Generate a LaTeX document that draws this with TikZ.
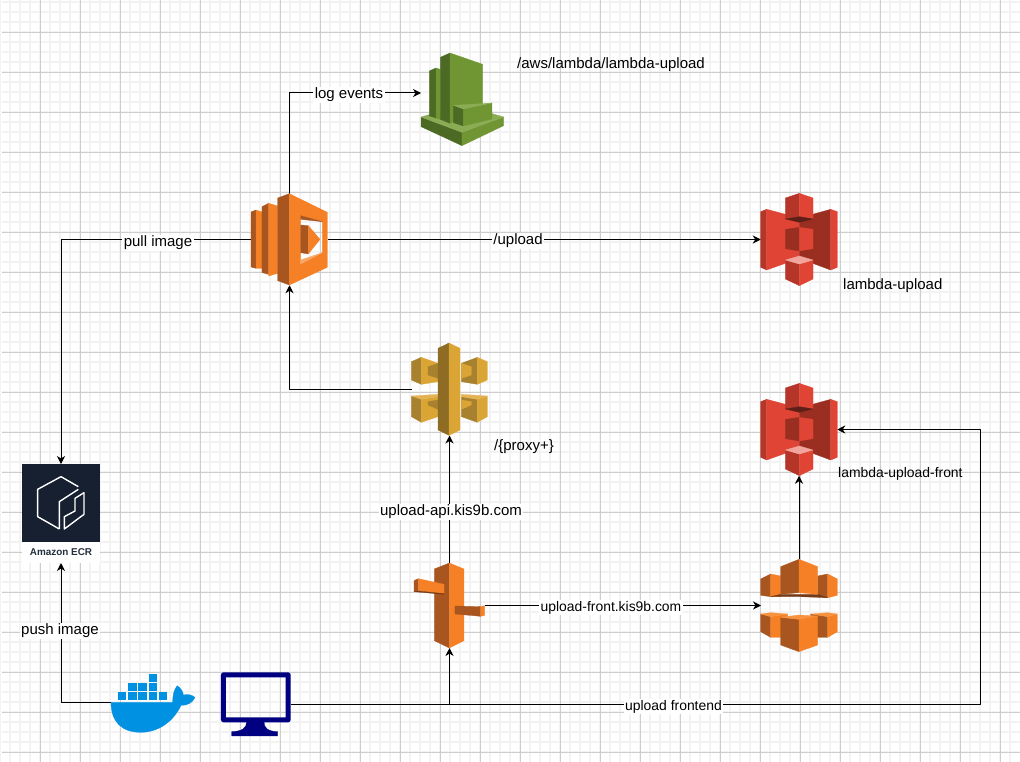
\documentclass[tikz,border=0pt]{standalone}
\usepackage{fontspec}
\setmainfont{Liberation Sans}
\usetikzlibrary{arrows.meta,calc}
\definecolor{gridminor}{HTML}{F3F3F3}
\definecolor{gridmajor}{HTML}{CDCDCD}
\definecolor{cwl}{HTML}{6F9632}
\definecolor{cwd}{HTML}{4C6A24}
\definecolor{cwp}{HTML}{8BAC55}
\definecolor{orl}{HTML}{F58025}
\definecolor{ord}{HTML}{A85520}
\definecolor{orp}{HTML}{F9A766}
\definecolor{orq}{HTML}{F7923F}
\definecolor{s3l}{HTML}{E04434}
\definecolor{s3d}{HTML}{9A2F21}
\definecolor{s3m}{HTML}{B53628}
\definecolor{s3p}{HTML}{F2A59C}
\definecolor{s3v}{HTML}{5E1F18}
\definecolor{agl}{HTML}{DBA535}
\definecolor{agd}{HTML}{8F6C24}
\definecolor{agm}{HTML}{A8812E}
\definecolor{agp}{HTML}{E3B355}
\definecolor{ecrbg}{HTML}{162030}
\definecolor{ecrtx}{HTML}{232F3E}
\definecolor{dock}{HTML}{0091E2}
\definecolor{mon}{HTML}{000080}
\tikzset{
  iconbox/.style={inner sep=0pt,outer sep=0pt,draw=none},
  conn/.style={draw=black,line width=1pt,-{Stealth[length=8pt,width=8pt,inset=2.5pt]}},
  linelabel/.style={fill=white,inner sep=1.5pt,font=\fontsize{15}{17}\selectfont},
  linelabelsmall/.style={fill=white,inner sep=1.5pt,font=\fontsize{13.9}{16}\selectfont},
  freelabel/.style={anchor=west,inner sep=0pt,font=\fontsize{15}{17}\selectfont},
  zoomed/.style={x=0.3333pt,y=-0.3333pt,line width=0.3pt},
}
\begin{document}
\begin{tikzpicture}[x=1pt,y=-1pt,line join=round]
\useasboundingbox (0,0) rectangle (1020,762);
\fill[white] (0,0) rectangle (1020,762);
% grid
\begin{scope}[gridminor,line width=1.3pt]
\foreach \i in {0,...,101} \draw (10*\i,0) -- (10*\i,762);
\foreach \i in {0,...,75} \draw (2,10*\i+2) -- (1020,10*\i+2);
\end{scope}
\begin{scope}[gridmajor,line width=0.8pt]
\foreach \i in {1,...,25} \draw (40*\i,0) -- (40*\i,762);
\foreach \i in {0,...,18} \draw (2,40*\i+32) -- (1020,40*\i+32);
\end{scope}

% named boxes
\node[iconbox,minimum width=83pt,minimum height=93pt] (cw) at (462.5,99.4) {};
\node[iconbox,minimum width=76.5pt,minimum height=91.5pt] (lambda) at (289.5,239.5) {};
\node[iconbox,minimum width=76.5pt,minimum height=92.5pt] (s3a) at (799,239.5) {};
\node[iconbox,minimum width=76.5pt,minimum height=92.5pt] (s3b) at (799,429.5) {};
\node[iconbox,minimum width=76pt,minimum height=92pt] (api) at (449.5,389.5) {};
\node[iconbox,minimum width=71pt,minimum height=85pt] (r53) at (449.5,605.5) {};
\node[iconbox,minimum width=76pt,minimum height=93pt] (cf) at (799,605.5) {};
\node[iconbox,minimum width=78pt,minimum height=78pt,fill=ecrbg] (ecr) at (61,503) {};
\node[iconbox,fill=white,minimum width=78pt,minimum height=21pt,font=\bfseries\fontsize{9.9}{11}\selectfont,text=ecrtx] (ecrl) at (61,552.5) {Amazon ECR};
\node[iconbox,minimum width=84pt,minimum height=59pt] (docker) at (153,702.5) {};
\node[iconbox,minimum width=70pt,minimum height=64pt] (monitor) at (256,704) {};
\coordinate (cwin) at (421,93);

% connectors
\draw[conn] (lambda.north) |- (cwin);
\draw[conn] (lambda.west) -| (ecr.north);
\draw[conn] (lambda.east) -- (s3a.west);
\draw[conn] (api.west) -| (lambda.south);
\draw[conn] (r53.north) -- (api.south);
\draw[conn] (r53.east) -- (cf.west);
\draw[conn] (monitor.east) -| (r53.south);
\draw[conn] (monitor.east) -- ++(689,0) |- (s3b.east);
\draw[conn] (cf.north) -- (s3b.south);
\draw[conn] (docker.west) -| (ecrl.south);

% connector labels
\node[linelabel] (l1) at (349,95) {log events};
\node[linelabel] (l2) at (158,243) {pull image};
\node[linelabel] (l3) at (518,241) {/upload};
\node[linelabel] (l4) at (451,512) {upload-api.kis9b.com};
\node[linelabelsmall] (l5) at (611,607.5) {upload-front.kis9b.com};
\node[linelabelsmall] (l6) at (673.5,706.5) {upload frontend};
\node[linelabel] (l7) at (60,631) {push image};
% free labels
\node[freelabel] (t1) at (517,65) {/aws/lambda/lambda-upload};
\node[freelabel] (t2) at (843,286) {lambda-upload};
\node[freelabel] (t3) at (494,447) {/\{proxy+\}};
\node[freelabel,font=\fontsize{13.9}{16}\selectfont] (t4) at (838,474) {lambda-upload-front};

% CloudWatch
\begin{scope}[shift={(400,30)},zoomed]
\filldraw[cwd] (63,261) -- (186,307) -- (186,347) -- (63,290) -- cycle;
\filldraw[cwl] (186,307) -- (311,261) -- (311,287) -- (186,347) -- cycle;
\filldraw[cwp] (63,261) -- (187,225) -- (311,261) -- (186,307) -- cycle;
\filldraw[cwd] (88,123) -- (108,114) -- (108,264) -- (88,258) -- cycle;
\filldraw[cwl] (108,114) -- (121,118) -- (121,268) -- (108,264) -- cycle;
\filldraw[cwd] (121,82) -- (150,69) -- (150,280) -- (121,268) -- cycle;
\filldraw[cwl] (150,69) -- (248,103) -- (248,225) -- (150,280) -- cycle;
\filldraw[cwd] (160,226) -- (190,237) -- (190,288) -- (160,278) -- cycle;
\filldraw[cwl] (190,237) -- (276,219) -- (276,267) -- (190,288) -- cycle;
\filldraw[cwp] (160,226) -- (276,219) -- (190,237) -- cycle;
\end{scope}

% Lambda
\begin{scope}[shift={(230,180)},zoomed]
\filldraw[ord] (63,96) -- (78,90) -- (78,265) -- (63,261) -- cycle;
\filldraw[orl] (78,90) -- (96,96) -- (96,265) -- (78,265) -- cycle;
\filldraw[ord] (96,80) -- (116,70) -- (116,283) -- (96,278) -- cycle;
\filldraw[orl] (116,70) -- (143,78) -- (143,280) -- (116,288) -- cycle;
\filldraw[ord] (143,54) -- (178,41) -- (178,315) -- (143,302) -- cycle;
\filldraw[orl,even odd rule] (178,41) -- (292,97) -- (292,262) -- (178,315) -- cycle
  (212,107) -- (277,125) -- (277,218) -- (212,252) -- cycle;
\filldraw[ord] (212,107) -- (277,125) -- (212,118) -- cycle;
\filldraw[orp] (212,240) -- (277,218) -- (212,252) -- cycle;
\filldraw[ord] (212,135) -- (235,137) -- (235,222) -- (212,218) -- cycle;
\filldraw[orl] (235,137) -- (270,178) -- (235,222) -- cycle;
\end{scope}

% S3 icons
\foreach \yy/\nm in {190/a,380/b}{
\begin{scope}[shift={(740,\yy)},zoomed]
\filldraw[s3m] (62,65) -- (80,58) -- (80,240) -- (62,232) -- cycle;
\filldraw[s3l] (80,58) -- (178,84) -- (178,205) -- (80,240) -- cycle;
\filldraw[s3d] (272,58) -- (178,84) -- (178,205) -- (272,240) -- cycle;
\filldraw[s3l] (272,58) -- (292,65) -- (292,232) -- (272,240) -- cycle;
\filldraw[s3m] (136,24) -- (178,10) -- (178,80) -- (136,87) -- cycle;
\filldraw[s3l] (178,10) -- (219,24) -- (219,87) -- (178,80) -- cycle;
\filldraw[s3v] (136,87) -- (178,80) -- (219,87) -- (178,97) -- cycle;
\filldraw[s3d] (136,118) -- (178,112) -- (178,183) -- (136,176) -- cycle;
\filldraw[s3l] (178,112) -- (219,118) -- (219,176) -- (178,183) -- cycle;
\filldraw[s3m] (136,210) -- (178,222) -- (178,287) -- (136,267) -- cycle;
\filldraw[s3l] (178,222) -- (219,210) -- (219,267) -- (178,287) -- cycle;
\filldraw[s3p] (136,210) -- (178,198) -- (219,210) -- (178,222) -- cycle;
\end{scope}}

% API Gateway
\begin{scope}[shift={(408,350)},zoomed]
\filldraw[agm] (10,35) -- (40,22) -- (40,103) -- (10,90) -- cycle;
\filldraw[agl] (40,22) -- (90,40) -- (90,95) -- (40,103) -- cycle;
\filldraw[agm] (60,50) -- (90,40) -- (90,85) -- (60,75) -- cycle;
\filldraw[agm] (160,40) -- (208,22) -- (208,103) -- (160,95) -- cycle;
\filldraw[agl] (208,22) -- (238,35) -- (238,90) -- (208,103) -- cycle;
\filldraw[agl] (160,40) -- (190,50) -- (190,75) -- (160,85) -- cycle;
\filldraw[agm] (10,138) -- (40,148) -- (40,217) -- (10,200) -- cycle;
\filldraw[agl] (40,148) -- (90,140) -- (90,200) -- (40,217) -- cycle;
\filldraw[agp] (10,138) -- (90,133) -- (90,140) -- (40,148) -- cycle;
\filldraw[agm] (60,155) -- (90,150) -- (90,178) -- (60,165) -- cycle;
\filldraw[agm] (160,140) -- (208,148) -- (208,217) -- (160,200) -- cycle;
\filldraw[agl] (208,148) -- (238,138) -- (238,200) -- (208,217) -- cycle;
\filldraw[agp] (160,133) -- (238,138) -- (208,148) -- (160,140) -- cycle;
\filldraw[agl] (160,150) -- (190,155) -- (190,165) -- (160,178) -- cycle;
\filldraw[agd] (90,-5) -- (123,-21) -- (123,256) -- (90,240) -- cycle;
\filldraw[agl] (123,-21) -- (156,-5) -- (156,240) -- (123,256) -- cycle;
\end{scope}

% Route 53
\begin{scope}[shift={(400,555)},zoomed]
\filldraw[ord] (103,42) -- (148,24) -- (148,279) -- (103,257) -- cycle;
\filldraw[orl] (148,24) -- (192,42) -- (192,257) -- (148,279) -- cycle;
\filldraw[ord] (42,77) -- (55,71) -- (55,108) -- (42,110) -- cycle;
\filldraw[orl] (55,71) -- (132,88) -- (132,116) -- (55,108) -- cycle;
\filldraw[ord!70!black] (42,110) -- (55,108) -- (132,116) -- (132,118) -- cycle;
\filldraw[ord] (165,153) -- (242,155) -- (242,184) -- (165,177) -- cycle;
\filldraw[orl] (242,155) -- (254,152) -- (254,181) -- (242,184) -- cycle;
\end{scope}

% CloudFront
\begin{scope}[shift={(745,550)},zoomed]
\filldraw[ord] (47,87) -- (77,72) -- (77,140) -- (47,136) -- cycle;
\filldraw[orl] (77,72) -- (107,78) -- (107,140) -- (77,140) -- cycle;
\filldraw[ord] (218,78) -- (248,72) -- (248,143) -- (218,140) -- cycle;
\filldraw[orl] (248,72) -- (277,87) -- (277,136) -- (248,143) -- cycle;
\filldraw[ord!70!black] (77,140) -- (107,133) -- (218,133) -- (248,143) -- (162,140) -- cycle;
\filldraw[ord] (107,50) -- (162,28) -- (162,128) -- (107,133) -- cycle;
\filldraw[orl] (162,28) -- (218,50) -- (218,133) -- (162,128) -- cycle;
\filldraw[ord] (47,192) -- (77,200) -- (77,262) -- (47,245) -- cycle;
\filldraw[orl] (77,200) -- (128,192) -- (128,262) -- (77,262) -- cycle;
\filldraw[orq] (47,192) -- (77,188) -- (128,192) -- (77,200) -- cycle;
\filldraw[ord] (197,192) -- (248,200) -- (248,262) -- (197,262) -- cycle;
\filldraw[orl] (248,200) -- (277,192) -- (277,245) -- (248,262) -- cycle;
\filldraw[orq] (197,192) -- (248,188) -- (277,192) -- (248,200) -- cycle;
\filldraw[ord] (107,202) -- (162,208) -- (162,305) -- (107,285) -- cycle;
\filldraw[orl] (162,208) -- (218,198) -- (218,285) -- (162,305) -- cycle;
\filldraw[orq] (107,202) -- (162,195) -- (218,198) -- (162,208) -- cycle;
\end{scope}

% ECR glyph
\begin{scope}[shift={(10,455)},zoomed]
\draw[white,line width=1.4pt] (148,222) -- (83,185) -- (83,103) -- (153,65) -- (205,95);
\draw[white,line width=1.4pt] (148,222) -- (148,140) -- (205,103);
\draw[white,line width=1.4pt] (222,113) -- (222,178) -- (163,222) -- (163,185) -- (195,168) -- (195,130) -- cycle;
\end{scope}

% Docker
\begin{scope}[shift={(100,660)},zoomed]
\filldraw[dock] (33,127) -- (218,127)
  .. controls (218,105) and (222,88) .. (232,77)
  .. controls (242,85) and (250,95) .. (250,105)
  .. controls (262,102) and (275,104) .. (285,112)
  .. controls (278,128) and (262,137) .. (243,136)
  .. controls (220,185) and (175,217) .. (122,217)
  .. controls (65,217) and (33,185) .. (33,127) -- cycle;
\foreach \x/\y in {53/97,84/97,115/97,146/97,176/97,84/69,115/69,146/69,146/41}
  \fill[dock] (\x,\y) rectangle ++(26,24);
\end{scope}

% Monitor
\begin{scope}[shift={(100,660)},zoomed]
\fill[mon,even odd rule,rounded corners=2.5pt] (363,37) rectangle (572,187) [sharp corners] (378,52) rectangle (557,172);
\filldraw[mon] (440,186) .. controls (440,205) and (425,214) .. (395,215) -- (395,228) -- (533,228) -- (533,215) .. controls (505,214) and (492,205) .. (492,186) -- cycle;
\end{scope}
\end{tikzpicture}
\end{document}
